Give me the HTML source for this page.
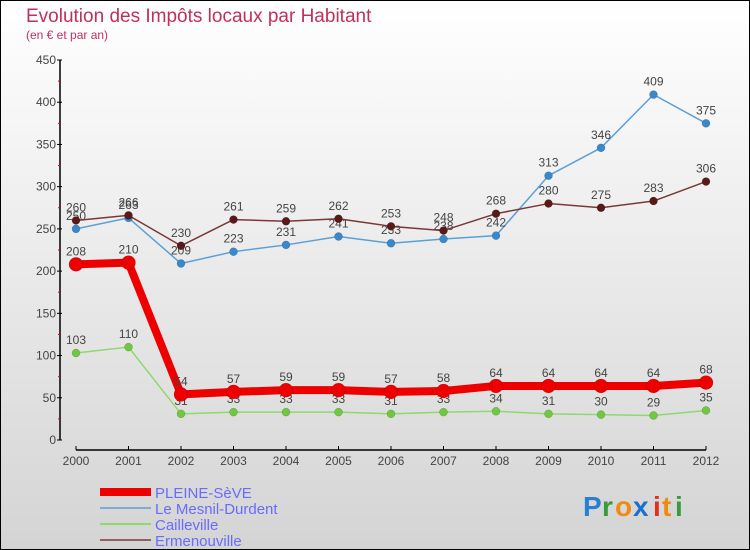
<!DOCTYPE html>
<html><head><meta charset="utf-8"><style>
body{margin:0;width:750px;height:550px;overflow:hidden}
svg{display:block;font-family:"Liberation Sans","DejaVu Sans",sans-serif}
</style></head><body>
<svg id="c" width="750" height="550">
<defs><linearGradient id="bg" x1="0" y1="0" x2="0" y2="1"><stop offset="0" stop-color="#ffffff"/><stop offset="1" stop-color="#d4d4d4"/></linearGradient></defs>
<rect x="0.5" y="0.5" width="749" height="549" fill="url(#bg)" stroke="#000"/>
<text x="26" y="22" font-size="19" fill="#c0305a">Evolution des Impôts locaux par Habitant</text>
<text x="26" y="39" font-size="12" fill="#c0305a">(en € et par an)</text>
<g id="axes"></g><g id="series"></g><g id="legend"></g>
<g font-size="28" font-weight="bold">
<text x="583" y="516" fill="#2a7fd0">P</text><text x="602" y="516" fill="#3a9a40">r</text><text x="615" y="516" fill="#f08a10">o</text><text x="633" y="516" fill="#1a6fd0">x</text><text x="653" y="516" fill="#e03020">i</text><text x="662" y="516" fill="#f08a10">t</text><text x="675" y="516" fill="#3a9a40">i</text>
</g>
</svg>
<script>
const years=[2000,2001,2002,2003,2004,2005,2006,2007,2008,2009,2010,2011,2012];
const yTicks=[0,50,100,150,200,250,300,350,400,450];
const pleine=[208,210,54,57,59,59,57,58,64,64,64,64,68];
const mesnil=[250,263,209,223,231,241,233,238,242,313,346,409,375];
const cailleville=[103,110,31,33,33,33,31,33,34,31,30,29,35];
const ermenouville=[260,266,230,261,259,262,253,248,268,280,275,283,306];
const seriesNames=["PLEINE-SèVE","Le Mesnil-Durdent","Cailleville","Ermenouville"];
const NS="http://www.w3.org/2000/svg";
const X=i=>76+i*52.5, Y=v=>440-v*380/450;
function mk(p,t,a){const e=document.createElementNS(NS,t);for(const k in a)e.setAttribute(k,a[k]);p.appendChild(e);return e;}
const ax=document.getElementById('axes');
let e=mk(ax,'line',{x1:60,y1:60,x2:60,y2:440,stroke:'#000','stroke-width':1.5});


e=mk(ax,'line',{x1:76,y1:450,x2:706,y2:450,stroke:'#000','stroke-width':1.5});


yTicks.forEach((v,i)=>{
 mk(ax,'line',{x1:57,y1:Y(v),x2:62,y2:Y(v),stroke:'#000'});
 if(i<yTicks.length-1)mk(ax,'line',{x1:58,y1:Y(v+25),x2:60,y2:Y(v+25),stroke:'#e00'});
 const t=mk(ax,'text',{x:56,y:Y(v)+4,'font-size':12,fill:'#444','text-anchor':'end'});t.textContent=v;
 
 
});
years.forEach((y,i)=>{
 mk(ax,'line',{x1:X(i),y1:446,x2:X(i),y2:450,stroke:'#000'});
 const t=mk(ax,'text',{x:X(i),y:465,'font-size':12,fill:'#444','text-anchor':'middle'});t.textContent=y;
 
 
});
const sg=document.getElementById('series');
function draw(vals,name,color,dot,w,r){
 const g=mk(sg,'g',{});
 
 
 mk(g,'polyline',{points:vals.map((v,i)=>X(i)+','+Y(v)).join(' '),fill:'none',stroke:color,'stroke-width':w,'stroke-linejoin':'round'});
 vals.forEach((v,i)=>{
  const c=mk(g,'circle',{cx:X(i),cy:Y(v),r:r,fill:dot,stroke:'rgba(0,0,0,0.25)','stroke-width':0.5});
  
  
  const t=mk(g,'text',{x:X(i),y:Y(v)-9,'font-size':12,fill:'#444','text-anchor':'middle'});t.textContent=v;
  
  
 });
}
draw(cailleville,'series-cailleville','#90d870','#70c840',1.5,4);
draw(mesnil,'series-le-mesnil-durdent','#5aa0d8','#3a88cc',1.5,4);
draw(ermenouville,'series-ermenouville','#7a3838','#5a1818',1.5,4);
draw(pleine,'series-pleine-seve','#ee0000','#ee0000',8,7);
const lg=document.getElementById('legend');
const lc=['#ee0000','#7aaed6','#90d870','#906060'], lw=[8,2,2,2];
seriesNames.forEach((n,i)=>{
 const g=mk(lg,'g',{});
 
 
 const y=492+i*16;
 mk(g,'line',{x1:100,y1:y,x2:151,y2:y,stroke:lc[i],'stroke-width':lw[i]});
 const t=mk(g,'text',{x:155,y:y+6,'font-size':15,fill:'#6a6aff'});t.textContent=n;
});
</script>
</body></html>
